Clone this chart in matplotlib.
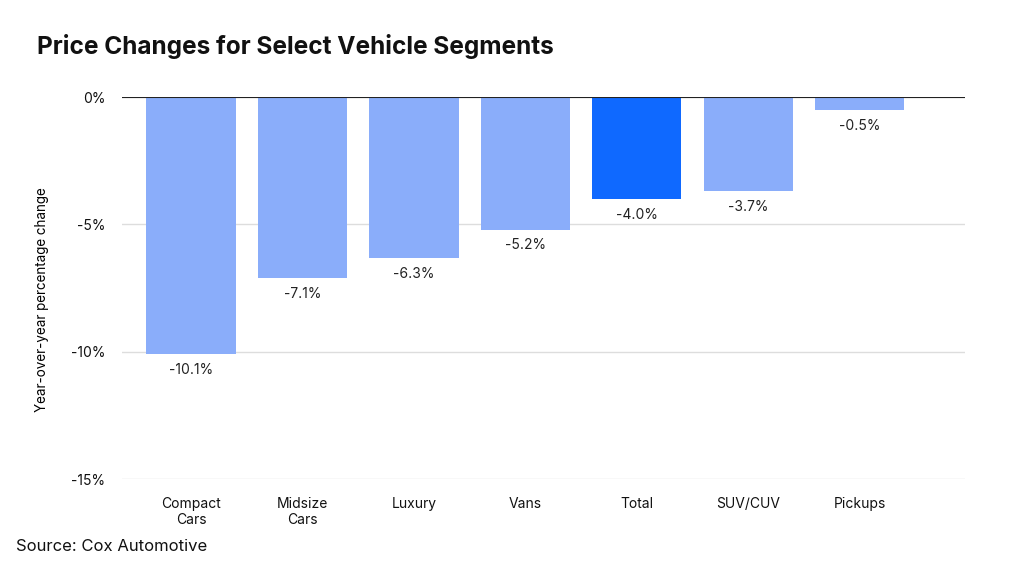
import matplotlib
matplotlib.use("Agg")
import matplotlib.pyplot as plt

categories = ["Compact\nCars", "Midsize\nCars", "Luxury", "Vans", "Total", "SUV/CUV", "Pickups"]
values = [-10.1, -7.1, -6.3, -5.2, -4.0, -3.7, -0.5]
highlight = "Total"
yticks = [0, -5, -10, -15]

plt.rcParams['font.family'] = ['Inter', 'DejaVu Sans']

fig = plt.figure(figsize=(10.24, 5.65), dpi=100)
ax = fig.add_axes([0.119, 0.152, 0.823, 0.676])

light = "#8AADFA"
dark = "#0F69FF"
colors = [dark if c == highlight else light for c in categories]
x = list(range(len(categories)))
ax.bar(x, values, width=0.8, color=colors, zorder=3)

for xi, v in zip(x, values):
    ax.text(xi, v - 0.35, f"{v:.1f}%", ha="center", va="top", fontsize=10, color="#222222")

ax.set_xlim(-0.62, 6.94)
ax.set_ylim(-15, 0)
ax.set_yticks(yticks)
ax.set_yticklabels([f"{t}%" for t in yticks], fontsize=10)
ax.set_xticks(x)
ax.set_xticklabels(categories, fontsize=10)
ax.tick_params(axis="both", length=0, colors="#111111")
ax.tick_params(axis="y", pad=12)
ax.tick_params(axis="x", pad=13)
for s in ax.spines.values():
    s.set_visible(False)
ax.grid(axis="y", color="#dddddd", linewidth=1, zorder=0)
ax.axhline(0, color="#222222", linewidth=1.5, zorder=4)

ax.set_ylabel("Year-over-year percentage change", fontsize=9.7)
ax.yaxis.set_label_coords(-0.087, 0.471)

fig.text(0.036, 0.917, "Price Changes for Select Vehicle Segments", fontsize=17.6,
         fontweight="bold", ha="left", va="center", color="#111111")
fig.text(0.016, 0.032, "Source: Cox Automotive", fontsize=12, ha="left", va="center", color="#111111")

fig.savefig("out.png", dpi=100)
